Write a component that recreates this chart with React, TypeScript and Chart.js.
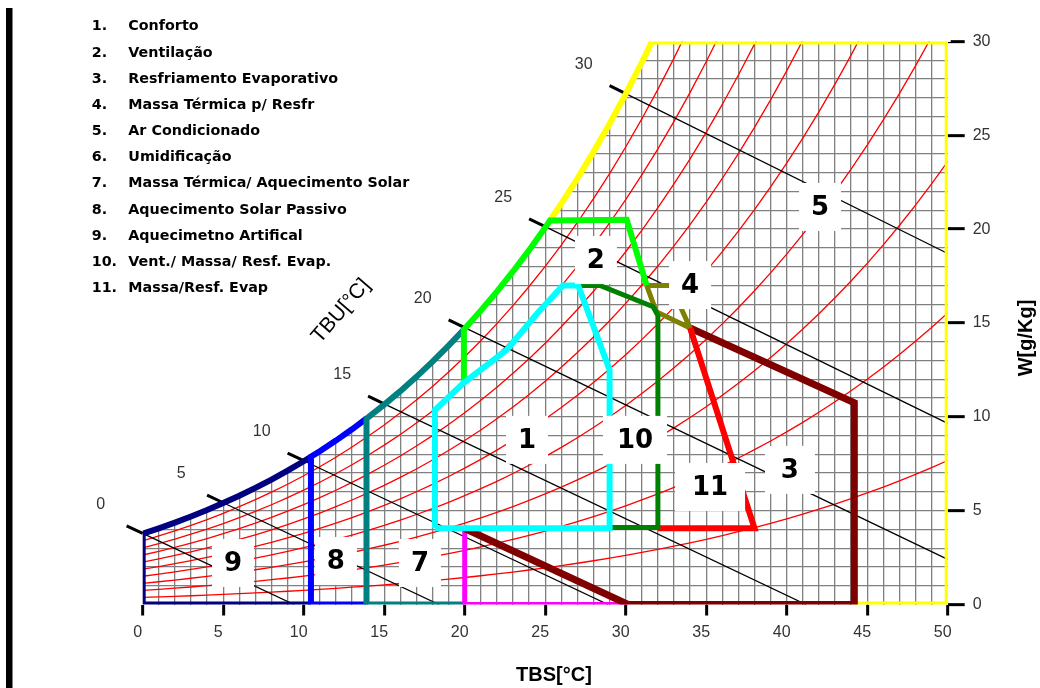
import React, { useEffect, useRef } from 'react';
import { Chart, registerables } from 'chart.js';

Chart.register(...registerables);

// ---------- DATA ----------
const PRESSURE_KPA = 101.325;
// dry-bulb temperatures (°C) and saturation vapour pressure (kPa)
const SAT_T = [0, 1, 2, 3, 4, 5, 6, 7, 8, 9, 10, 11, 12, 13, 14, 15, 16, 17, 18, 19, 20, 21, 22, 23, 24, 25, 26, 27, 28, 29, 30, 31, 32, 33, 34, 35, 36, 37, 38, 39, 40, 41, 42, 43, 44, 45, 46, 47, 48, 49, 50];
const SAT_P = [0.6112, 0.6571, 0.706, 0.7581, 0.8135, 0.8725, 0.9353, 1.002, 1.0729, 1.1481, 1.2281, 1.3129, 1.4027, 1.4979, 1.5988, 1.7056, 1.8185, 1.938, 2.0644, 2.1978, 2.3388, 2.4877, 2.6447, 2.8104, 2.985, 3.169, 3.3629, 3.567, 3.7818, 4.0078, 4.2455, 4.4953, 4.7578, 5.0335, 5.3229, 5.6267, 5.9453, 6.2795, 6.6298, 6.9969, 7.3814, 7.784, 8.2054, 8.6463, 9.1075, 9.5898, 10.094, 10.62, 11.171, 11.745, 12.344];
// relative humidity curves (%)
const RH_LEVELS = [10, 20, 30, 40, 50, 60, 70, 80, 90];
// wet-bulb lines
const TBU_VALUES = [0, 5, 10, 15, 20, 25, 30];
const TBU_START_W = [3.79, 5.42, 7.66, 10.69, 14.75, 20.13, 27.22];
const TBU_END_T = [9.4, 18.4, 28.9, 41.2, 50, 50, 50];
const TBU_END_W = [0, 0, 0, 0, 2.4, 9.65, 18.7];

const X_MIN = 0;
const X_MAX = 50;
const Y_MIN = 0;
const Y_MAX = 30;
const X_LABEL_STEP = 5;
const Y_LABEL_STEP = 5;

// zones (T °C, W g/kg); ['sat', a, b] follows the saturation curve from a to b
type Spec = (number[] | [string, number, number])[];
const ZONE_1_CONFORTO: Spec = [[18.15, 4.06], [18.15, 10.36], [19.9, 11.78], [22.6, 13.56], [24.5, 15.5], [26.1, 17.0], [27.05, 17.0], [29.0, 12.5], [29.0, 4.06], [18.15, 4.06]];
const ZONE_2_VENTILACAO: Spec = [[19.95, 11.85], ['sat', 19.95, 25.3], [30.06, 20.5], [31.3, 17.0]];
const ZONE_3_RESFRIAMENTO: Spec = [[20.0, 4.05], [30.15, 0], [44.2, 0], [44.2, 10.75], [34.0, 14.73]];
const ZONE_4_MASSA_RESFR: Spec = [[31.3, 17.0], [32.8, 17.0], [34.0, 14.73], [31.9, 15.6], [31.3, 17.0]];
const ZONE_5_AR_CONDICIONADO: Spec = [['sat', 25.3, 31.63], [50, 30], [50, 0], [44.2, 0]];
const ZONE_6_UMIDIFICACAO: Spec = [[20.0, 4.05], [20.0, 0], [30.15, 0]];
const ZONE_7_MASSA_AQUEC: Spec = [[19.95, 0], [13.9, 0], ['sat', 13.9, 19.95]];
const ZONE_8_AQUEC_SOLAR: Spec = [[13.9, 0], [10.45, 0], ['sat', 10.45, 13.9]];
const ZONE_9_AQUEC_ARTIFICIAL: Spec = [[10.45, 0], [0, 0], ['sat', 0, 10.45]];
const ZONE_10_VENT_MASSA: Spec = [[27.2, 17.0], [28.4, 17.0], [31.7, 15.87], [32.0, 15.4], [32.0, 4.1], [29.0, 4.1]];
const ZONE_11_MASSA_RESF: Spec = [[34.0, 14.73], [38.0, 4.06], [32.0, 4.06]];

const ZONE_LABELS = ['5', '2', '4', '1', '10', '11', '3', '9', '8', '7'];
const ZONE_LABEL_T = [42.07, 28.15, 34.0, 23.87, 30.58, 35.24, 40.2, 5.61, 12.0, 17.22];
const ZONE_LABEL_W = [21.18, 18.35, 17.02, 8.77, 8.77, 6.26, 7.17, 2.21, 2.32, 2.21];

const LEGEND_ITEMS = [
  'Conforto',
  'Ventilação',
  'Resfriamento Evaporativo',
  'Massa Térmica p/ Resfr',
  'Ar Condicionado',
  'Umidificação',
  'Massa Térmica/ Aquecimento Solar',
  'Aquecimento Solar Passivo',
  'Aquecimetno Artifical',
  'Vent./ Massa/ Resf. Evap.',
  'Massa/Resf. Evap',
];

// ---------- helpers ----------
const SAT_W = SAT_P.map((p) => (622 * p) / (PRESSURE_KPA - p));
function satAt(t: number): number {
  const i = Math.min(Math.max(Math.floor(t), 0), SAT_T.length - 2);
  const f = t - SAT_T[i];
  return SAT_W[i] + (SAT_W[i + 1] - SAT_W[i]) * f;
}
function satRun(a: number, b: number) {
  const out = [{ x: a, y: satAt(a) }];
  if (a < b) {
    for (let t = Math.floor(a) + 1; t < b; t++) out.push({ x: t, y: satAt(t) });
  } else {
    for (let t = Math.ceil(a) - 1; t > b; t--) out.push({ x: t, y: satAt(t) });
  }
  out.push({ x: b, y: satAt(b) });
  return out;
}
function buildPath(spec: Spec) {
  const pts: { x: number; y: number }[] = [];
  spec.forEach((s: any) => {
    if (s[0] === 'sat') pts.push(...satRun(s[1], s[2]));
    else pts.push({ x: s[0], y: s[1] });
  });
  return pts;
}

function lineDs(data: any[], color: string, width: number, order: number, extra: any = {}) {
  return {
    data,
    borderColor: color,
    borderWidth: width,
    pointRadius: 0,
    pointHoverRadius: 0,
    tension: 0,
    fill: false,
    order,
    borderJoinStyle: 'miter',
    ...extra,
  };
}

const overlayPlugin = {
  id: 'overlay',
  beforeDatasetsDraw(chart: any) {
    // hide grid overshoot just outside the plot edges (above saturation region)
    const { ctx, chartArea: a } = chart;
    ctx.save();
    ctx.fillStyle = '#ffffff';
    ctx.fillRect(a.left - 3, a.top - 3, 3.6, a.bottom - a.top);
    ctx.fillRect(a.left - 3, a.top - 3, a.right - a.left + 6, 3.6);
    ctx.restore();
  },
  afterDatasetsDraw(chart: any) {
    const { ctx } = chart;
    const xs = chart.scales.x;
    const ys = chart.scales.y;
    ctx.save();

    // zone labels with white boxes
    const boxW: Record<string, number> = { '10': 64, '11': 70, '3': 50 };
    ctx.textAlign = 'center';
    ctx.textBaseline = 'middle';
    ctx.font = 'bold 26px "DejaVu Sans"';
    ZONE_LABELS.forEach((t, i) => {
      const px = xs.getPixelForValue(ZONE_LABEL_T[i]);
      const py = ys.getPixelForValue(ZONE_LABEL_W[i]);
      const w = boxW[t] || 42;
      ctx.fillStyle = '#ffffff';
      ctx.fillRect(px - w / 2, py - 24, w, 48);
      ctx.fillStyle = '#000000';
      ctx.fillText(t, px, py + 1);
    });

    // wet-bulb labels
    ctx.font = '16px "Liberation Sans"';
    ctx.fillStyle = '#333333';
    TBU_VALUES.forEach((tw, i) => {
      const px = xs.getPixelForValue(tw) - 42;
      const py = ys.getPixelForValue(TBU_START_W[i]) - 29;
      ctx.fillText(String(tw), px, py);
    });

    // TBU title
    ctx.save();
    ctx.translate(341, 311);
    ctx.rotate((-49 * Math.PI) / 180);
    ctx.font = '21px "Liberation Sans"';
    ctx.fillStyle = '#000000';
    ctx.fillText('TBU[°C]', 0, 0);
    ctx.restore();

    // axis titles
    ctx.font = 'bold 20px "Liberation Sans"';
    ctx.fillStyle = '#000000';
    ctx.fillText('TBS[°C]', 554, 675);
    ctx.save();
    ctx.translate(1026, 338);
    ctx.rotate(-Math.PI / 2);
    ctx.fillText('W[g/Kg]', 0, 0);
    ctx.restore();

    // legend list
    ctx.textAlign = 'left';
    ctx.font = 'bold 14.3px "DejaVu Sans"';
    LEGEND_ITEMS.forEach((txt, i) => {
      const yy = 26.7 + i * 26.16;
      ctx.fillText(i + 1 + '.', 91.7, yy);
      ctx.fillText(txt, 128.3, yy);
    });

    // left page bar
    ctx.fillRect(6, 8, 6.5, 680);
    ctx.restore();
  },
};

export default function App() {
  const ref = useRef<HTMLCanvasElement>(null);

  useEffect(() => {
    document.body.style.margin = '0';
    const datasets: any[] = [];

    // white mask above saturation curve
    datasets.push(
      lineDs(satRun(0, 33), 'rgba(0,0,0,0)', 0, 100, { fill: 'end', backgroundColor: '#ffffff' })
    );
    // relative humidity curves
    RH_LEVELS.forEach((rh) => {
      const f = rh / 100;
      const data = SAT_T.map((t, i) => ({ x: t, y: (622 * f * SAT_P[i]) / (PRESSURE_KPA - f * SAT_P[i]) }));
      datasets.push(lineDs(data, '#ff0000', 1.3, 90));
    });
    // wet-bulb lines
    TBU_VALUES.forEach((tw, i) => {
      const start = { x: tw, y: TBU_START_W[i] };
      const end = { x: TBU_END_T[i], y: TBU_END_W[i] };
      datasets.push(lineDs([start, end], '#000000', 1.3, 80));
      const slope = (end.y - start.y) / (end.x - start.x);
      const stub = { x: tw - 1, y: start.y - slope };
      datasets.push(lineDs([stub, start], '#000000', 3, 79, { clip: false }));
    });
    // zones
    datasets.push(lineDs(buildPath(ZONE_5_AR_CONDICIONADO), '#ffff00', 6, 11));
    datasets.push(lineDs(buildPath(ZONE_9_AQUEC_ARTIFICIAL), '#000080', 6, 10));
    datasets.push(lineDs(buildPath(ZONE_8_AQUEC_SOLAR), '#0000ff', 6, 9));
    datasets.push(lineDs(buildPath(ZONE_7_MASSA_AQUEC), '#008080', 6, 8));
    datasets.push(lineDs(buildPath(ZONE_6_UMIDIFICACAO), '#ff00ff', 5, 7));
    datasets.push(lineDs(buildPath(ZONE_3_RESFRIAMENTO), '#800000', 7, 6));
    datasets.push(lineDs(buildPath(ZONE_4_MASSA_RESFR), '#808000', 5, 5));
    datasets.push(lineDs(buildPath(ZONE_11_MASSA_RESF), '#ff0000', 6, 4));
    datasets.push(lineDs(buildPath(ZONE_2_VENTILACAO), '#00ff00', 6, 3));
    datasets.push(lineDs(buildPath(ZONE_10_VENT_MASSA), '#008000', 5, 2));
    datasets.push(lineDs(buildPath(ZONE_1_CONFORTO), '#00ffff', 6, 1));

    const tickFont = { family: 'Liberation Sans', size: 16 };
    const gridColor = (c: any, lo: number, hi: number) =>
      c.tick && (c.tick.value === lo || c.tick.value === hi) ? 'rgba(0,0,0,0)' : '#808080';
    const chart = new Chart(ref.current as HTMLCanvasElement, {
      type: 'line',
      data: { datasets },
      plugins: [overlayPlugin],
      options: {
        animation: false,
        responsive: false,
        devicePixelRatio: 1,
        events: [],
        layout: { padding: { left: 142.7, top: 41.4, right: 0, bottom: 0 } },
        plugins: { legend: { display: false }, tooltip: { enabled: false } },
        scales: {
          x: {
            type: 'linear',
            min: X_MIN,
            max: X_MAX,
            afterFit: (s: any) => {
              s.height = 83.5;
            },
            border: { display: false },
            grid: {
              color: (c: any) => gridColor(c, X_MIN, X_MAX),
              lineWidth: 1.3,
              drawTicks: true,
              tickLength: 11,
              tickWidth: 3,
              tickColor: (c: any) => (c.tick && c.tick.value % X_LABEL_STEP === 0 ? '#000000' : 'rgba(0,0,0,0)'),
            },
            ticks: {
              stepSize: 1,
              autoSkip: false,
              maxRotation: 0,
              padding: 7,
              labelOffset: -5,
              color: '#333333',
              font: tickFont,
              callback: (v: any) => (Number(v) % X_LABEL_STEP === 0 ? String(v) : ''),
            },
          },
          y: {
            type: 'linear',
            position: 'right',
            min: Y_MIN,
            max: Y_MAX,
            afterFit: (s: any) => {
              s.width = 92.3;
            },
            border: { display: false },
            grid: {
              color: (c: any) => gridColor(c, Y_MIN, Y_MAX),
              lineWidth: 1.3,
              drawTicks: true,
              tickLength: 17,
              tickWidth: 3,
              tickColor: (c: any) => (c.tick && c.tick.value % Y_LABEL_STEP === 0 ? '#000000' : 'rgba(0,0,0,0)'),
            },
            ticks: {
              stepSize: 1,
              autoSkip: false,
              padding: 8,
              color: '#333333',
              font: tickFont,
              callback: (v: any) => (Number(v) % Y_LABEL_STEP === 0 ? String(v) : ''),
            },
          },
        },
      } as any,
    });
    return () => chart.destroy();
  }, []);

  return (
    <div style={{ position: 'absolute', left: 0, top: 0, width: 1040, height: 688, background: '#ffffff', overflow: 'hidden' }}>
      <canvas ref={ref} width={1040} height={688} style={{ display: 'block' }} />
    </div>
  );
}
